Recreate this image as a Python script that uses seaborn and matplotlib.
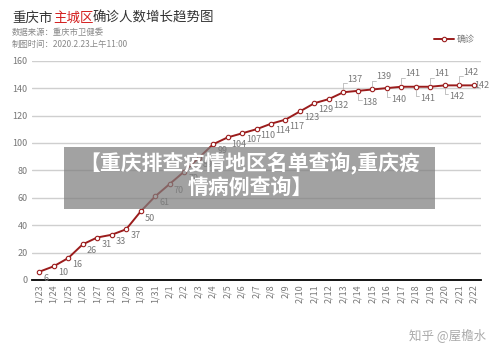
import matplotlib
matplotlib.use('Agg')
import matplotlib.pyplot as plt
import seaborn as sns
import pandas as pd

# data
dates = ['1/23', '1/24', '1/25', '1/26', '1/27', '1/28', '1/29', '1/30', '1/31',
         '2/1', '2/2', '2/3', '2/4', '2/5', '2/6', '2/7', '2/8', '2/9', '2/10',
         '2/11', '2/12', '2/13', '2/14', '2/15', '2/16', '2/17', '2/18', '2/19',
         '2/20', '2/21', '2/22']
confirmed = [6, 10, 16, 26, 31, 33, 37, 50, 61, 70, 79, 89, 99, 104, 107, 110,
             114, 117, 123, 129, 132, 137, 138, 139, 140, 141, 141, 141, 142, 142, 142]

df = pd.DataFrame({'date': dates, 'confirmed': confirmed})
df['x'] = range(len(df))

sns.set_theme(style="white")
plt.rcParams['font.family'] = ['Noto Sans CJK SC', 'DejaVu Sans']

fig = plt.figure(figsize=(5, 3.56), dpi=100)
ax = fig.add_axes([0.064, 0.2135, 0.898, 0.616])

line_color = '#9b1c1c'
sns.lineplot(data=df, x='x', y='confirmed', ax=ax, color=line_color, linewidth=1.4,
             marker='o', markersize=3.2, markerfacecolor='white',
             markeredgecolor=line_color, markeredgewidth=0.8, label='确诊')

ax.set_xlim(-0.5, len(dates) - 0.5)
ax.set_ylim(0, 160)
ax.set_yticks(range(0, 161, 20))
ax.set_xticks(df['x'])
ax.set_xticklabels(dates, rotation=90)
ax.tick_params(axis='both', labelsize=6.5, colors='#777777', length=0, pad=3)
ax.yaxis.grid(True, color='#cfcfcf', linewidth=1)
ax.set_xlabel('')
ax.set_ylabel('')
for s in ['top', 'right', 'left']:
    ax.spines[s].set_visible(False)
ax.spines['bottom'].set_color('black')
ax.spines['bottom'].set_linewidth(1.3)

# data labels
above = {21, 23, 25, 27, 29}
below = {22, 24, 26, 28}
for i, v in zip(df['x'], df['confirmed']):
    if i in above:
        ax.annotate(str(v), (i, v), xytext=(3, 6), textcoords='offset points',
                    fontsize=6.5, color='#777777', ha='left', va='bottom')
        ax.plot([i, i, i + 0.25], [v + 2, v + 6.5, v + 6.5], color='#aaaaaa', lw=0.5)
    elif i in below:
        ax.annotate(str(v), (i, v), xytext=(3, -5), textcoords='offset points',
                    fontsize=6.5, color='#777777', ha='left', va='top')
        ax.plot([i, i, i + 0.25], [v - 2, v - 6.5, v - 6.5], color='#aaaaaa', lw=0.5)
    elif i == 30:
        ax.annotate(str(v), (i, v), xytext=(0, 0), textcoords='offset points',
                    fontsize=6.5, color='#777777', ha='left', va='center')
    else:
        ax.annotate(str(v), (i, v), xytext=(3, -1.5), textcoords='offset points',
                    fontsize=6.5, color='#777777', ha='left', va='top')

leg = ax.legend(loc='center right', bbox_to_anchor=(1.0, 1.095), frameon=False,
                fontsize=6.5, handlelength=2.2, handletextpad=0.3,
                borderaxespad=0.3)
for t in leg.get_texts():
    t.set_color('#777777')

# title block
fig.text(0.024, 0.95, '重庆市', fontsize=9.7, color='#333333', va='center')
fig.text(0.106, 0.95, '主城区', fontsize=9.7, color='#d42020', va='center')
fig.text(0.186, 0.95, '确诊人数增长趋势图', fontsize=9.7, color='#333333', va='center')
fig.text(0.024, 0.91, '数据来源：重庆市卫健委', fontsize=6, color='#888888', va='center')
fig.text(0.024, 0.875, '制图时间：2020.2.23上午11:00', fontsize=6, color='#888888', va='center')

# overlay banner
banner = plt.Rectangle((0.128, 0.413), 0.742, 0.174, transform=fig.transFigure,
                       facecolor='#7e7e7e', alpha=0.72, edgecolor='none', zorder=10)
fig.add_artist(banner)
fig.text(0.5, 0.542, '【重庆排查疫情地区名单查询,重庆疫', fontsize=15, fontweight='bold',
         color='white', ha='center', va='center', zorder=11)
fig.text(0.5, 0.472, '情病例查询】', fontsize=15, fontweight='bold',
         color='white', ha='center', va='center', zorder=11)

# watermark
fig.text(0.972, 0.058, '知乎 @屋檐水', fontsize=9, color='#aaaaaa', ha='right', va='center')

fig.savefig('out.png', dpi=100)
plt.close()
